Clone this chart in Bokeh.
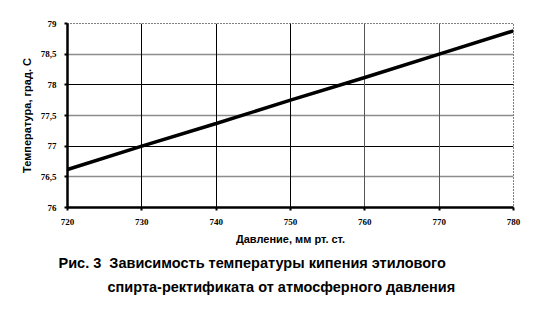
from bokeh.plotting import figure
from bokeh.models import FixedTicker, Grid, Title, Range1d
from bokeh.embed import file_html
from bokeh.resources import INLINE

pressure = [720, 730, 740, 750, 760, 770, 780]
temperature = [76.62, 77.0, 77.37, 77.75, 78.12, 78.5, 78.88]
x_ticks = [720, 730, 740, 750, 760, 770, 780]
y_ticks = [76, 76.5, 77, 77.5, 78, 78.5, 79]
y_tick_labels = {76: "76", 76.5: "76,5", 77: "77", 77.5: "77,5", 78: "78", 78.5: "78,5", 79: "79"}
x_title = "Давление, мм рт. ст."
y_title = "Температура, град. С"
caption1 = "Рис. 3\u00a0\u00a0Зависимость температуры кипения этилового"
caption2 = "спирта-ректификата от атмосферного давления"

p = figure(width=541, height=311, output_backend="svg", toolbar_location=None,
           x_range=Range1d(720, 780), y_range=Range1d(76, 79),
           min_border_left=67, min_border_right=28, min_border_top=23, min_border_bottom=104)
p.background_fill_color = "white"
p.border_fill_color = "white"
p.outline_line_color = "black"
p.outline_line_dash = "1 2"
p.outline_line_width = 1

p.xaxis.ticker = FixedTicker(ticks=x_ticks)
p.yaxis.ticker = FixedTicker(ticks=y_ticks)
p.yaxis.major_label_overrides = y_tick_labels
for ax in (p.xaxis[0], p.yaxis[0]):
    ax.axis_line_width = 2.5
    ax.axis_line_color = "black"
    ax.major_tick_line_width = 2
    ax.major_tick_in = 0
    ax.major_tick_out = 3
    ax.minor_tick_line_color = None
    ax.major_label_text_font = "Liberation Serif"
    ax.major_label_text_font_style = "bold"
    ax.major_label_text_font_size = "9px"
    ax.axis_label_text_font = "Liberation Sans"
    ax.axis_label_text_font_style = "bold"
    ax.axis_label_text_font_size = "11px"
    ax.axis_label_text_color = "black"
    ax.major_label_text_color = "black"
p.xaxis.axis_label = x_title
p.yaxis.axis_label = y_title
p.xaxis.major_label_standoff = 8
p.yaxis.major_label_standoff = 8
p.xaxis.axis_label_standoff = 5
p.yaxis.axis_label_standoff = 5

p.xgrid.visible = False
p.ygrid.visible = False
p.add_layout(Grid(dimension=1, ticker=FixedTicker(ticks=[77, 78]), grid_line_color="black", grid_line_width=1))
p.add_layout(Grid(dimension=1, ticker=FixedTicker(ticks=[76.5, 77.5, 78.5]), grid_line_color="#8c8c8c", grid_line_width=1.5))
p.add_layout(Grid(dimension=0, ticker=FixedTicker(ticks=[730, 740, 750]), grid_line_color="black", grid_line_width=1))
p.add_layout(Grid(dimension=0, ticker=FixedTicker(ticks=[760, 770]), grid_line_color="#555555", grid_line_width=1))

p.line(pressure, temperature, line_color="black", line_width=3.5)

t1 = Title(text=caption1, align="left", offset=-9, standoff=11,
           text_font="Liberation Sans", text_font_style="bold", text_font_size="14.5px", text_color="black")
t2 = Title(text=caption2, align="left", offset=40, standoff=0,
           text_font="Liberation Sans", text_font_style="bold", text_font_size="14.5px", text_color="black")
p.add_layout(t1, "below")
p.add_layout(t2, "below")

open("out.html", "w").write(file_html(p, INLINE))
